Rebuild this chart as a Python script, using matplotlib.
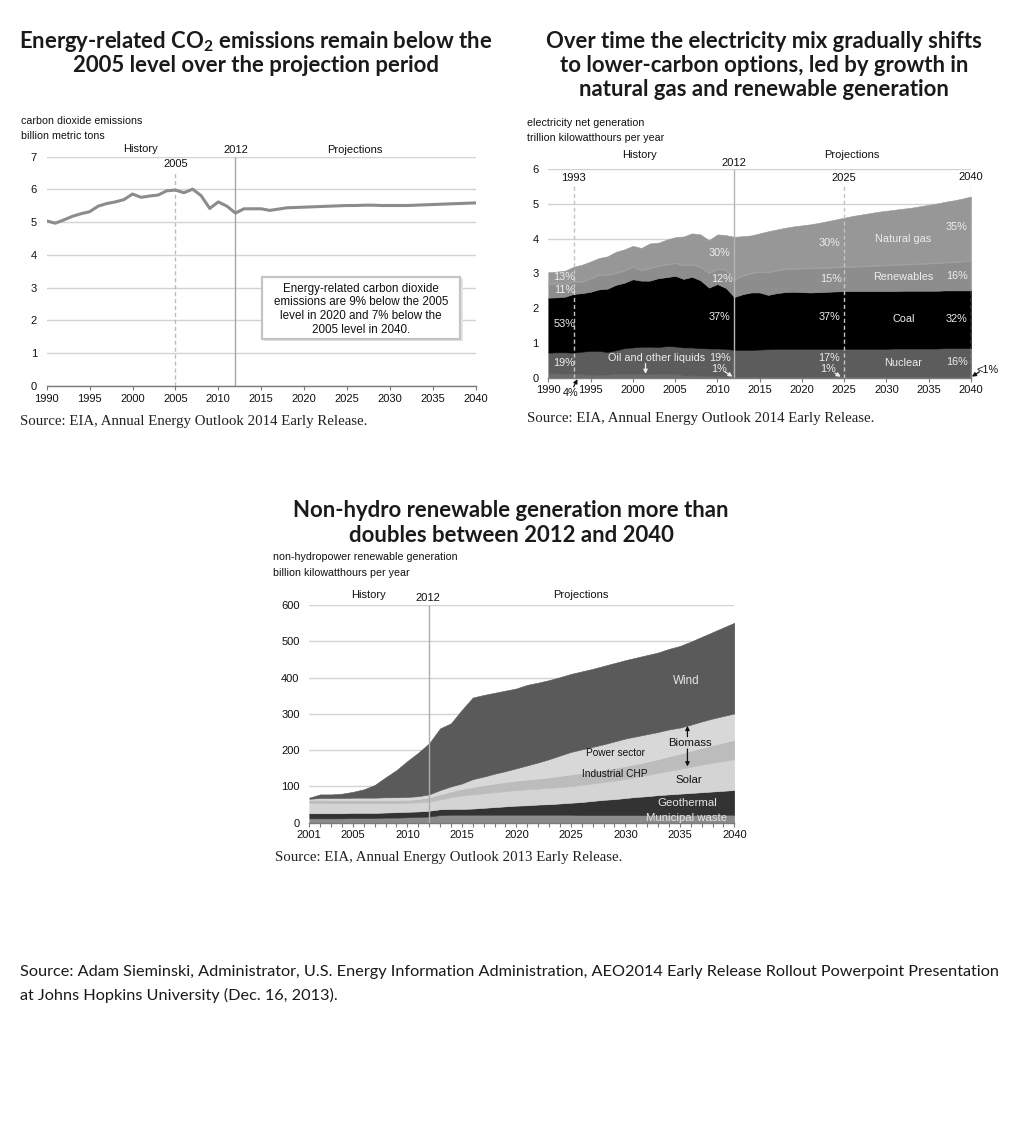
import numpy as np
import matplotlib.pyplot as plt
from matplotlib.patches import Rectangle

W, H = 1034, 1125

plt.rcParams['font.family'] = ['Liberation Sans', 'DejaVu Sans']
plt.rcParams['mathtext.fontset'] = 'custom'
plt.rcParams['mathtext.rm'] = 'Lato'
plt.rcParams['mathtext.bf'] = 'Lato:bold'

TITLE_FONT = ['Lato', 'DejaVu Sans']
SERIF_FONT = ['Liberation Serif', 'DejaVu Serif']

# --- CO2 emissions, billion metric tons ---
co2_years = list(range(1990, 2041))
co2 = [5.04, 4.97, 5.07, 5.18, 5.26, 5.32, 5.49, 5.57, 5.62, 5.69,
       5.86, 5.76, 5.80, 5.83, 5.96, 5.98, 5.90, 6.01, 5.81, 5.42,
       5.62, 5.49, 5.28, 5.41, 5.41, 5.41, 5.36, 5.40, 5.44, 5.45,
       5.46, 5.47, 5.48, 5.49, 5.50, 5.51, 5.51, 5.52, 5.52, 5.51,
       5.51, 5.51, 5.51, 5.52, 5.53, 5.54, 5.55, 5.56, 5.57, 5.58,
       5.59]

# --- electricity net generation, trillion kWh ---
elec_years = list(range(1990, 2041))
oil = [.13, .12, .11, .12, .10, .08, .08, .09, .12, .12,
       .11, .12, .10, .12, .12, .12, .06, .07, .05, .04,
       .04, .03, .03, .03, .03, .03, .03, .03, .03, .03,
       .03, .03, .03, .03, .03, .03, .03, .03, .03, .03,
       .03, .03, .03, .03, .03, .02, .02, .02, .02, .02,
       .02]
nuclear = [.59, .61, .62, .60, .65, .69, .69, .65, .67, .73,
           .76, .77, .79, .76, .79, .78, .81, .80, .80, .80,
           .80, .80, .77, .77, .77, .78, .79, .80, .80, .80,
           .80, .80, .80, .80, .80, .80, .80, .80, .80, .80,
           .80, .81, .81, .81, .81, .82, .82, .83, .83, .83,
           .83]
coal = [1.58, 1.58, 1.60, 1.69, 1.68, 1.70, 1.77, 1.82, 1.88, 1.88,
        1.96, 1.90, 1.90, 1.98, 1.98, 2.03, 1.97, 2.03, 1.95, 1.75,
        1.85, 1.75, 1.52, 1.60, 1.65, 1.64, 1.56, 1.60, 1.63, 1.64,
        1.63, 1.62, 1.63, 1.64, 1.65, 1.66, 1.66, 1.66, 1.66, 1.66,
        1.66, 1.65, 1.66, 1.66, 1.66, 1.66, 1.66, 1.66, 1.66, 1.66,
        1.66]
renewables = [.38, .39, .35, .35, .32, .38, .41, .39, .33, .34,
              .36, .29, .35, .35, .36, .36, .39, .35, .38, .42,
              .43, .52, .49, .53, .55, .59, .64, .65, .66, .66,
              .68, .69, .69, .69, .69, .69, .70, .71, .72, .73,
              .74, .75, .75, .76, .77, .78, .79, .80, .81, .83,
              .85]
natgas = [.35, .35, .40, .43, .50, .49, .49, .54, .62, .62,
          .60, .65, .72, .67, .72, .75, .83, .90, .94, .94,
          1.00, 1.00, 1.24, 1.14, 1.09, 1.11, 1.19, 1.18, 1.19, 1.22,
          1.24, 1.27, 1.30, 1.34, 1.38, 1.42, 1.46, 1.49, 1.52, 1.55,
          1.57, 1.59, 1.61, 1.63, 1.66, 1.69, 1.72, 1.75, 1.78, 1.81,
          1.85]

# --- non-hydro renewables, billion kWh ---
ren_years = list(range(2001, 2041))
muni = [12, 12, 12, 12, 13, 13, 13, 14, 14, 15,
        16, 17, 21, 22, 22, 22, 22, 22, 22, 22,
        22, 22, 22, 22, 22, 21, 21, 21, 21, 21,
        21, 21, 21, 21, 21, 21, 21, 22, 22, 22]
geothermal = [14, 14, 14, 14, 14, 14, 14, 14, 15, 15,
              15, 16, 16, 16, 16, 17, 19, 21, 23, 25,
              26, 28, 29, 31, 33, 36, 39, 42, 44, 47,
              50, 52, 55, 57, 59, 61, 63, 64, 66, 68]
solar = [29, 29, 28, 28, 27, 27, 27, 26, 25, 25,
         25, 25, 27, 32, 37, 39, 40, 41, 42, 43,
         44, 44, 45, 45, 46, 47, 48, 49, 51, 53,
         55, 58, 61, 65, 68, 72, 76, 79, 82, 85]
bio_chp = [8, 8, 8, 8, 8, 8, 8, 8, 8, 8,
           9, 12, 14, 16, 18, 20, 22, 24, 25, 26,
           27, 28, 29, 31, 32, 33, 33, 34, 35, 35,
           36, 37, 38, 40, 42, 44, 46, 49, 51, 53]
bio_power = [3, 5, 6, 6, 7, 7, 7, 8, 8, 8,
             8, 8, 12, 14, 15, 22, 24, 27, 30, 34,
             39, 44, 50, 56, 62, 65, 68, 70, 73, 76,
             76, 76, 75, 74, 72, 72, 73, 73, 73, 73]
wind = [3, 10, 10, 12, 16, 23, 35, 55, 75, 99,
        120, 141, 170, 174, 203, 225, 225, 223, 222, 220,
        222, 220, 218, 216, 215, 215, 215, 216, 216, 216,
        217, 218, 219, 222, 225, 229, 233, 238, 244, 250]

fig = plt.figure(figsize=(W / 100, H / 100), dpi=100)


def px(x, y):
    return x / W, 1 - y / H


def axes_px(left, top, right, bottom):
    return fig.add_axes([left / W, 1 - bottom / H, (right - left) / W, (bottom - top) / H])


def base_style(ax):
    for s in ['left', 'right', 'top']:
        ax.spines[s].set_visible(False)
    ax.spines['bottom'].set_color('#7a7a7a')
    ax.spines['bottom'].set_linewidth(1.0)
    ax.grid(axis='y', color='#d2d2d2', lw=1.0)
    ax.set_axisbelow(True)
    ax.tick_params(axis='y', length=0, pad=7, labelsize=8, labelcolor='#111')
    ax.tick_params(axis='x', length=3, width=0.8, color='#7a7a7a', pad=2.5,
                   labelsize=8, labelcolor='#111')
    ax.set_facecolor('none')


def title(lines, cx, ys):
    for t, y in zip(lines, ys):
        fig.text(*px(cx, y), t, ha='center', va='center', fontsize=15.9,
                 fontweight='bold', family=TITLE_FONT, color='#1a1a1a')


def small(x, y, t):
    fig.text(*px(x, y), t, ha='left', va='center', fontsize=7.7, color='#111')


def source(x, y, t):
    fig.text(*px(x, y), t, ha='left', va='center', fontsize=10.75,
             family=SERIF_FONT, color='#222')


# ================= panel 1 =================
title(['Energy-related CO$_\\mathbf{2}$ emissions remain below the',
       '2005 level over the projection period'], 256, [41, 66])
small(21, 121, 'carbon dioxide emissions')
small(21, 136, 'billion metric tons')

ax1 = axes_px(46.7, 156.7, 475.7, 386)
base_style(ax1)
ax1.set_xlim(1990, 2040)
ax1.set_ylim(0, 7)
ax1.set_yticks(range(0, 8))
ax1.set_xticks(range(1990, 2041, 5))
ax1.vlines(2005, 0, 6.55, color='#bdbdbd', lw=1, linestyles=(0, (3, 2)))
ax1.vlines(2012, 0, 7, color='#a8a8a8', lw=1)
ax1.plot(co2_years, co2, color='#8c8c8c', lw=2.2, solid_joinstyle='round')
for x, y, t in [(2000.9, 7.23, 'History'), (2012, 7.2, '2012'),
                (2025.9, 7.2, 'Projections'), (2005, 6.78, '2005')]:
    ax1.text(x, y, t, ha='center', va='center', fontsize=8, color='#111', clip_on=False)

# annotation box
fig.patches.append(Rectangle(px(263.5, 341), (199 / W), (63 / H), transform=fig.transFigure,
                             facecolor='#e4e4e4', edgecolor='none', zorder=5))
fig.patches.append(Rectangle(px(261.7, 339), (198 / W), (62 / H), transform=fig.transFigure,
                             facecolor='white', edgecolor='#c4c4c4', lw=1.6, zorder=6))
for t, y in zip(['Energy-related carbon dioxide', 'emissions are 9% below the 2005',
                 'level in 2020 and 7% below the', '2005 level in 2040.'],
                [288.7, 302.3, 316, 329.7]):
    fig.text(*px(361, y), t, ha='center', va='center', fontsize=8.4, color='#111', zorder=7)

source(20, 421, 'Source: EIA, Annual Energy Outlook 2014 Early Release.')

# ================= panel 2 =================
title(['Over time the electricity mix gradually shifts',
       'to lower-carbon options, led by growth in',
       'natural gas and renewable generation'], 764, [41, 65.5, 90])
small(527, 123, 'electricity net generation')
small(527, 138, 'trillion kilowatthours per year')

ax2 = axes_px(548.3, 169, 971, 377.7)
base_style(ax2)
ax2.set_xlim(1990, 2040)
ax2.set_ylim(0, 6)
ax2.set_yticks(range(0, 7))
ax2.set_xticks(range(1990, 2041, 5))
ax2.stackplot(elec_years, oil, nuclear, coal, renewables, natgas,
              colors=['#6c6c6c', '#5c5c5c', '#000000', '#8d8d8d', '#979797'],
              edgecolor='face', lw=0.4, zorder=2)
ren_top = np.array(oil) + np.array(nuclear) + np.array(coal) + np.array(renewables)
ax2.plot(elec_years, ren_top, color='#a2a2a2', lw=0.7, zorder=3)
for xv in [1993, 2025, 2040]:
    ax2.vlines(xv, 0, 5.53, color='#c4c4c4', lw=1, linestyles=(0, (3, 2)), zorder=4)
ax2.vlines(2012, 0, 6, color='#b4b4b4', lw=1, zorder=4)

for x, y, t in [(2000.8, 6.4, 'History'), (2012, 6.17, '2012'), (2025.9, 6.4, 'Projections'),
                (1993, 5.74, '1993'), (2025, 5.74, '2025'), (2040, 5.77, '2040')]:
    ax2.text(x, y, t, ha='center', va='center', fontsize=8, color='#111', clip_on=False)

LIGHT = '#ededed'
labels2 = [(1991.9, 2.90, '13%'), (1991.9, 2.52, '11%'), (1991.9, 1.54, '53%'),
           (1991.9, 0.41, '19%'), (2002.8, 0.56, 'Oil and other liquids'),
           (2010.3, 0.56, '19%'), (2010.2, 0.25, '1%'), (2010.3, 3.58, '30%'),
           (2010.5, 2.83, '12%'), (2010.3, 1.75, '37%'), (2023.2, 3.88, '30%'),
           (2023.4, 2.85, '15%'), (2023.2, 1.75, '37%'), (2023.2, 0.58, '17%'),
           (2023.1, 0.25, '1%'), (2032.0, 3.99, 'Natural gas'),
           (2032.0, 2.90, 'Renewables'), (2032.0, 1.69, 'Coal'), (2032.0, 0.41, 'Nuclear'),
           (2038.3, 4.34, '35%'), (2038.3, 2.93, '16%'), (2038.3, 1.69, '32%'),
           (2038.3, 0.44, '16%')]
for x, y, t in labels2:
    ax2.text(x, y, t, ha='center', va='center', fontsize=7.8, color=LIGHT, zorder=6)
ax2.text(1992.65, -0.45, '4%', ha='center', va='center', fontsize=7.8, color='#111', clip_on=False)
ax2.text(2042.0, 0.22, '<1%', ha='center', va='center', fontsize=7.8, color='#111', clip_on=False)

arrows2 = [((1993.0, -0.26), (1993.45, -0.04), '#111'),
           ((2001.5, 0.41), (2001.5, 0.11), LIGHT),
           ((2010.9, 0.17), (2011.8, 0.03), LIGHT),
           ((2023.9, 0.13), (2024.6, 0.03), LIGHT),
           ((2041.0, 0.17), (2040.1, 0.03), '#111')]
for start, end, c in arrows2:
    ax2.annotate('', xy=end, xytext=start, annotation_clip=False, zorder=7,
                 arrowprops=dict(arrowstyle='-|>', color=c, lw=0.9,
                                 mutation_scale=6, shrinkA=0, shrinkB=0))

source(527, 418.5, 'Source: EIA, Annual Energy Outlook 2014 Early Release.')

# ================= panel 3 =================
title(['Non-hydro renewable generation more than',
       'doubles between 2012 and 2040'], 511, [510.5, 536])
small(273, 557, 'non-hydropower renewable generation')
small(273, 573, 'billion kilowatthours per year')

ax3 = axes_px(309.3, 605, 734.3, 822.7)
base_style(ax3)
ax3.set_xlim(2001, 2040)
ax3.set_ylim(0, 600)
ax3.set_yticks(range(0, 601, 100))
ax3.set_xticks(ren_years)
ax3.set_xticklabels([str(y) if (y == 2001 or y % 5 == 0) else '' for y in ren_years])
ax3.stackplot(ren_years, muni, geothermal, solar, bio_chp, bio_power, wind,
              colors=['#8b8b8b', '#333333', '#d4d4d4', '#bcbcbc', '#d8d8d8', '#5a5a5a'],
              edgecolor='face', lw=0.4, zorder=2)
ax3.vlines(2012, 0, 600, color='#adadad', lw=1, zorder=4)

for x, y, t in [(2006.45, 627.6, 'History'), (2011.9, 619, '2012'),
                (2025.9, 627.6, 'Projections')]:
    ax3.text(x, y, t, ha='center', va='center', fontsize=8, color='#111', clip_on=False)

labels3 = [(2035.6, 390.6, 'Wind', 8.4, '#e6e6e6'),
           (2035.9, 220.5, 'Biomass', 8.2, '#111'),
           (2029.1, 191, 'Power sector', 7.3, '#111'),
           (2029.0, 133, 'Industrial CHP', 7.3, '#111'),
           (2035.8, 118, 'Solar', 8.2, '#111'),
           (2035.7, 53.5, 'Geothermal', 8.2, '#e6e6e6'),
           (2035.6, 13.8, 'Municipal waste', 8.2, '#e6e6e6')]
for x, y, t, fs, c in labels3:
    ax3.text(x, y, t, ha='center', va='center', fontsize=fs, color=c, zorder=6)
for start, end in [((2035.7, 237), (2035.7, 267)), ((2035.7, 203), (2035.7, 155))]:
    ax3.annotate('', xy=end, xytext=start, zorder=7,
                 arrowprops=dict(arrowstyle='-|>', color='#111', lw=0.9,
                                 mutation_scale=6, shrinkA=0, shrinkB=0))

source(275, 857, 'Source: EIA, Annual Energy Outlook 2013 Early Release.')

# ================= footer =================
for t, y in [('Source: Adam Sieminski, Administrator, U.S. Energy Information Administration, '
              'AEO2014 Early Release Rollout Powerpoint Presentation', 972),
             ('at Johns Hopkins University (Dec. 16, 2013).', 995)]:
    fig.text(*px(20, y), t, ha='left', va='center', fontsize=11.7, family=TITLE_FONT, color='#1a1a1a')

fig.savefig('out.png', dpi=100)
